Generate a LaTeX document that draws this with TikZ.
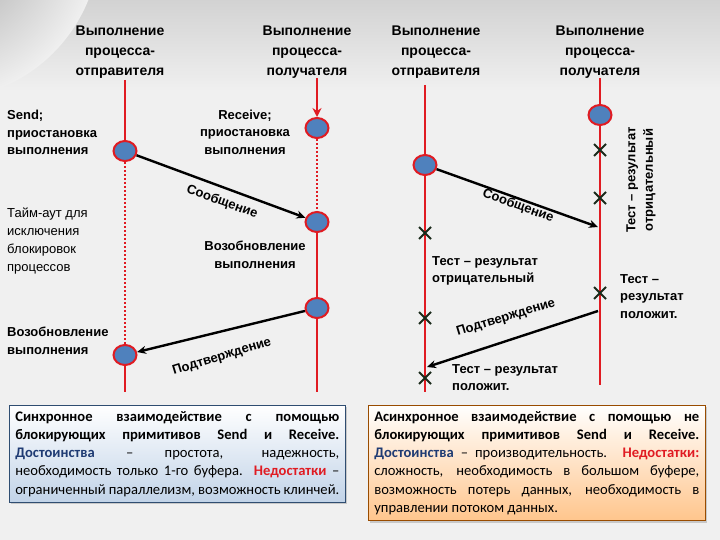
\documentclass[tikz,border=0pt]{standalone}
\usepackage{fontspec}
\setmainfont{Liberation Sans}
\newfontfamily\boxfont{Carlito}
\usetikzlibrary{arrows.meta,shadows,shapes.geometric,calc}
\definecolor{lred}{HTML}{E01B22}
\definecolor{cblue}{HTML}{4F81BD}
\definecolor{xcol}{HTML}{1A2A1A}
\definecolor{navyc}{HTML}{1F3B73}
\newcommand{\nohyph}{\hyphenpenalty=10000\relax}
\tikzset{
 life/.style={lred,line width=2pt},
 dotl/.style={lred,line width=2pt,dotted},
 ev/.style={ellipse,draw=lred,fill=cblue,line width=2pt,minimum width=23pt,minimum height=20pt,inner sep=0pt},
 msg/.style={black,line width=2.4pt,-{Stealth[length=9pt,width=8pt]}},
 lbl/.style={font=\bfseries\fontsize{13}{17.5}\selectfont,align=center,inner sep=0pt},
 lbll/.style={font=\bfseries\fontsize{13}{17.5}\selectfont,align=left,inner sep=0pt,anchor=north west},
 lblr/.style={font=\fontsize{13}{18}\selectfont,align=left,inner sep=0pt,anchor=north west},
 hdr/.style={font=\bfseries\fontsize{14}{20}\selectfont,align=center,inner sep=0pt},
 txtbox/.style={draw=#1!60!black,line width=0.6pt,text width=324pt,align=justify,anchor=north west,inner sep=6pt,font=\boxfont\fontsize{14.6}{18.2}\selectfont,drop shadow={opacity=0.35,shadow xshift=2pt,shadow yshift=-2pt}},
}
\newcommand{\xmark}[1]{\draw[xcol,line width=2pt] ($(#1)+(-6,-6)$)--($(#1)+(6,6)$) ($(#1)+(-6,6)$)--($(#1)+(6,-6)$);}
\begin{document}
\begin{tikzpicture}[x=1pt,y=-1pt]
\useasboundingbox (0,0) rectangle (720,540);
\fill[gray!12] (0,0) rectangle (720,540);
\shade[top color=gray!35,bottom color=gray!12] (0,0) rectangle (720,90);
\shade[inner color=gray!75,outer color=gray!12] (-60,-60) circle (160);
% headers
\node[hdr] (h1) at (120,52) {Выполнение\\процесса-\\отправителя};
\node[hdr] (h2) at (307,52) {Выполнение\\процесса-\\получателя};
\node[hdr] (h3) at (436,52) {Выполнение\\процесса-\\отправителя};
\node[hdr] (h4) at (600,52) {Выполнение\\процесса-\\получателя};
% left diagram
\coordinate (a0) at (125,80); \coordinate (a9) at (125,392);
\coordinate (b0) at (317,78); \coordinate (b9) at (317,392);
\node[ev] (s1) at (125,151) {};
\node[ev] (s2) at (125,355) {};
\node[ev] (r1) at (317,128) {};
\node[ev] (r2) at (317,222) {};
\node[ev] (r3) at (317,308) {};
\draw[life] (a0) -- (s1.north);
\draw[dotl] (s1.south) -- (s2.north);
\draw[life] (s2.south) -- (a9);
\draw[life,-{Stealth[length=9pt,width=9pt]}] (b0) -- (r1.north);
\draw[dotl] (r1.south) -- (r2.north);
\draw[life] (r2.south) -- (r3.north);
\draw[life] (r3.south) -- (b9);
\draw[msg] (s1) -- (r2);
\draw[msg] (r3) -- (s2);
\node[lbll] (t1) at (7,110) {Send;\\приостановка\\выполнения};
\node[lbl] (t2) at (245,132) {Receive;\\приостановка\\выполнения};
\node[lbl,rotate=-20] (t3) at (222,202) {Сообщение};
\node[lblr] (t4) at (7,208) {Тайм-аут для\\исключения\\блокировок\\процессов};
\node[lbl] (t5) at (255,255) {Возобновление\\выполнения};
\node[lbll] (t6) at (7,327) {Возобновление\\выполнения};
\node[lbl,rotate=17] (t7) at (222,357) {Подтверждение};
% right diagram
\coordinate (c0) at (425,85); \coordinate (c9) at (425,392);
\coordinate (d0) at (600,78); \coordinate (d9) at (600,385);
\draw[life] (c0) -- (c9);
\draw[life] (d0) -- (d9);
\node[ev] (s3) at (425,165) {};
\node[ev] (r4) at (600,115) {};
\coordinate (m1) at (598,227);
\coordinate (m2) at (598,311);
\coordinate (m3) at (427,367);
\draw[msg] (s3) -- (m1);
\draw[msg] (m2) -- (m3);
\coordinate (x1) at (425,233); \coordinate (x2) at (425,318); \coordinate (x3) at (425,378);
\coordinate (x4) at (600,150); \coordinate (x5) at (600,198); \coordinate (x6) at (600,293);
\xmark{x1}\xmark{x2}\xmark{x3}\xmark{x4}\xmark{x5}\xmark{x6}
\node[lbl,rotate=-20] (t8) at (518,206) {Сообщение};
\node[lbl,rotate=90] (t9) at (641,180) {Тест – результат\\отрицательный};
\node[lbll] (t10) at (432,256) {Тест – результат\\отрицательный};
\node[lbll] (t11) at (620,274) {Тест –\\результат\\положит.};
\node[lbl,rotate=17] (t12) at (506,318) {Подтверждение};
\node[lbll] (t13) at (452,364) {Тест – результат\\положит.};
% boxes
\node[txtbox=cblue,top color=white,bottom color=cblue!35] (bx1) at (9,405) {\nohyph\textbf{Синхронное взаимодействие с помощью блокирующих примитивов Send и \mbox{Receive.}} \textbf{\textcolor{navyc}{Достоинства}} – простота, надежность, необходимость только 1-го буфера. \textbf{\textcolor{lred}{Недостатки}} – ограниченный параллелизм, возможность клинчей.};
\node[txtbox=orange,top color=white,bottom color=orange!45!white,text width=325pt] (bx2) at (368,405) {\textbf{Асинхронное взаимодействие с помощью не блокирующих примитивов Send и Receive.} \textbf{\textcolor{navyc}{Достоинства}} – производительность. \textbf{\textcolor{lred}{Недостатки:}} сложность, необходимость в большом буфере, возможность потерь данных, необходимость в управлении потоком данных.};
\end{tikzpicture}
\end{document}
